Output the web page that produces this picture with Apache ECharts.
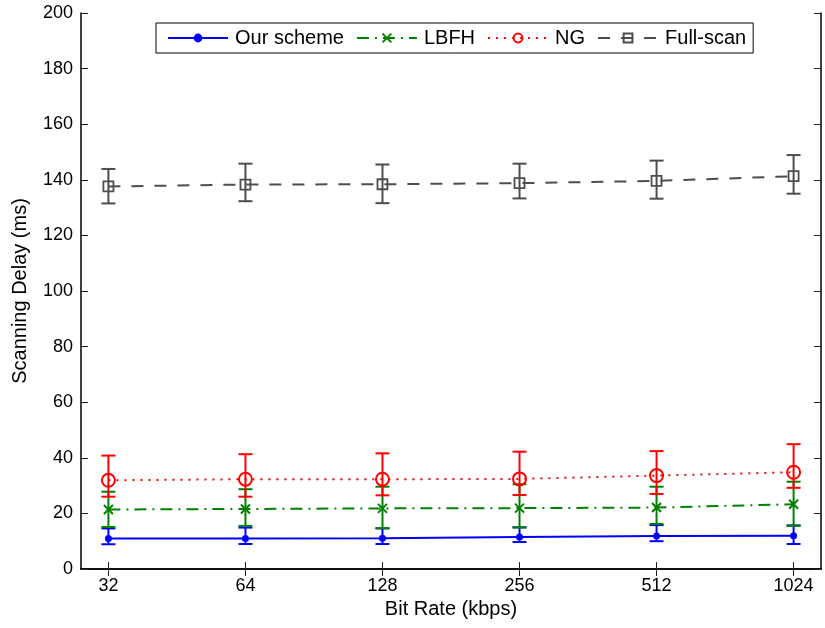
<!DOCTYPE html>
<html>
<head>
<meta charset="utf-8">
<script src="https://cdn.jsdelivr.net/npm/echarts@6/dist/echarts.min.js"></script>
<style>
  html, body { margin: 0; padding: 0; background: #fff; }
  #chart { width: 825px; height: 628px; }
</style>
</head>
<body>
<div id="chart"></div>
<script>
// Bit rates (kbps) on a log2 axis, with tick labels
const rates = [32, 64, 128, 256, 512, 1024];
const rateLabels = ['32', '64', '128', '256', '512', '1024'];
const yTicks = [0, 20, 40, 60, 80, 100, 120, 140, 160, 180, 200];

// Scanning delay (ms): mean, lower and upper error bounds
const oursMean = [11.0, 11.0, 11.1, 11.5, 11.9, 12.0];
const oursLow  = [8.9, 9.0, 9.0, 9.7, 10.0, 9.0];
const oursHigh = [14.6, 14.9, 14.6, 15.0, 15.8, 15.7];

const lbfhMean = [21.4, 21.6, 21.8, 21.9, 22.1, 23.3];
const lbfhLow  = [15.1, 15.5, 14.7, 14.9, 16.2, 15.5];
const lbfhHigh = [27.8, 28.7, 29.6, 30.5, 29.6, 31.4];

const ngMean = [31.9, 32.3, 32.3, 32.4, 33.6, 34.8];
const ngLow  = [26.0, 26.0, 26.5, 26.6, 27.0, 29.2];
const ngHigh = [40.8, 41.3, 41.6, 42.2, 42.4, 44.9];

const fullMean = [137.6, 138.3, 138.4, 138.8, 139.6, 141.3];
const fullLow  = [131.5, 132.3, 131.6, 133.3, 133.2, 135.0];
const fullHigh = [143.9, 145.8, 145.5, 145.8, 146.9, 148.9];

const FONT = '"Liberation Sans", Arial, Helvetica, sans-serif';
const logX = rates.map(r => Math.log2(r));

function pts(mean) { return logX.map((x, i) => [x, mean[i]]); }
function bars(low, high) { return logX.map((x, i) => [x, low[i], high[i]]); }

function errorBars(name, color, low, high) {
  return {
    type: 'custom',
    name: name + ' err',
    data: bars(low, high),
    silent: true,
    z: 2,
    renderItem: function (params, api) {
      const x = api.value(0);
      const pLow = api.coord([x, api.value(1)]);
      const pHigh = api.coord([x, api.value(2)]);
      const half = 7;
      const style = { stroke: color, lineWidth: 2, fill: null };
      return {
        type: 'group',
        children: [
          { type: 'line', shape: { x1: pLow[0], y1: pLow[1], x2: pHigh[0], y2: pHigh[1] }, style: style },
          { type: 'line', shape: { x1: pLow[0] - half, y1: pLow[1], x2: pLow[0] + half, y2: pLow[1] }, style: style },
          { type: 'line', shape: { x1: pHigh[0] - half, y1: pHigh[1], x2: pHigh[0] + half, y2: pHigh[1] }, style: style }
        ]
      };
    }
  };
}

function lineSeries(name, mean, color, lineType, symbol, symbolSize, filled, borderWidth) {
  return {
    type: 'line',
    name: name,
    data: pts(mean),
    z: 3,
    symbol: symbol,
    symbolSize: symbolSize,
    showAllSymbol: true,
    lineStyle: { color: color, width: 2, type: lineType },
    itemStyle: {
      color: filled ? color : 'none',
      borderColor: color,
      borderWidth: borderWidth
    },
    emphasis: { disabled: true }
  };
}

const BLUE = '#0000ff', GREEN = '#008000', RED = '#ff0000', GRAY = '#4d4d4d';

const chart = echarts.init(document.getElementById('chart'), null, { renderer: 'canvas' });

const axisLineStyle = { show: true, lineStyle: { color: '#000', width: 1.5 } };
const tickStyle = { color: '#222', width: 1 };

chart.setOption({
  animation: false,
  backgroundColor: '#fff',
  textStyle: { fontFamily: FONT },
  grid: { left: 81, top: 13, right: 4, bottom: 59, containLabel: false },
  legend: {
    data: ['Our scheme', 'LBFH', 'NG', 'Full-scan'],
    left: 156,
    top: 23,
    orient: 'horizontal',
    itemWidth: 60,
    itemHeight: 11,
    itemGap: 12,
    padding: [5, 7, 5, 11],
    borderColor: '#000',
    borderWidth: 1,
    backgroundColor: '#fff',
    textStyle: { fontFamily: FONT, fontSize: 20, color: '#000', padding: [0, 0, 0, 2] },
    selectedMode: false
  },
  xAxis: [
    {
      type: 'value',
      position: 'bottom',
      min: 4.8,
      max: 10.2,
      name: 'Bit Rate (kbps)',
      nameLocation: 'middle',
      nameGap: 29,
      nameTextStyle: { fontFamily: FONT, fontSize: 20, color: '#000' },
      axisLine: axisLineStyle,
      axisTick: { show: true, inside: true, length: 7, lineStyle: tickStyle, customValues: logX },
      axisLabel: {
        show: true, margin: 8, fontFamily: FONT, fontSize: 18, color: '#000',
        customValues: logX,
        formatter: function (v) {
          const i = logX.findIndex(x => Math.abs(x - v) < 1e-6);
          return i >= 0 ? rateLabels[i] : '';
        }
      },
      splitLine: { show: false }
    },
    {
      type: 'value',
      position: 'top',
      min: 4.8,
      max: 10.2,
      axisLine: axisLineStyle,
      axisTick: { show: true, inside: true, length: 7, lineStyle: tickStyle, customValues: logX },
      axisLabel: { show: false },
      splitLine: { show: false }
    }
  ],
  yAxis: [
    {
      type: 'value',
      position: 'left',
      min: 0,
      max: 200,
      interval: 20,
      name: 'Scanning Delay (ms)',
      nameLocation: 'middle',
      nameGap: 51,
      nameTextStyle: { fontFamily: FONT, fontSize: 20, color: '#000' },
      axisLine: axisLineStyle,
      axisTick: { show: true, inside: true, length: 7, lineStyle: tickStyle },
      axisLabel: {
        show: true, margin: 8, fontFamily: FONT, fontSize: 18, color: '#000',
        customValues: yTicks
      },
      splitLine: { show: false }
    },
    {
      type: 'value',
      position: 'right',
      min: 0,
      max: 200,
      interval: 20,
      axisLine: axisLineStyle,
      axisTick: { show: true, inside: true, length: 7, lineStyle: tickStyle },
      axisLabel: { show: false },
      splitLine: { show: false }
    }
  ],
  series: [
    errorBars('Our scheme', BLUE, oursLow, oursHigh),
    lineSeries('Our scheme', oursMean, BLUE, 'solid', 'circle', 7, true, 0),
    errorBars('LBFH', GREEN, lbfhLow, lbfhHigh),
    lineSeries('LBFH', lbfhMean, GREEN, [12, 6, 2, 6], 'path://M0,0L10,10M10,0L0,10', 9, false, 2),
    errorBars('NG', RED, ngLow, ngHigh),
    lineSeries('NG', ngMean, RED, [2, 6], 'circle', 13, false, 2),
    errorBars('Full-scan', GRAY, fullLow, fullHigh),
    lineSeries('Full-scan', fullMean, GRAY, [12, 11], 'rect', 10, false, 1.8)
  ]
});
</script>
</body>
</html>
